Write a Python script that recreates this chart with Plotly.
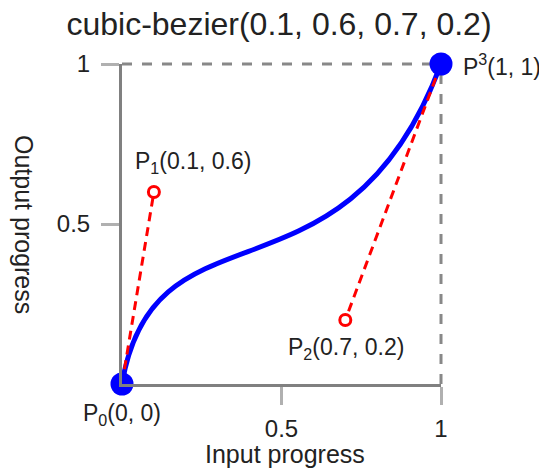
import plotly.graph_objects as go

# ---- data ----
TITLE = "cubic-bezier(0.1, 0.6, 0.7, 0.2)"
point_names = ["P<sub>0</sub>", "P<sub>1</sub>", "P<sub>2</sub>", "P<sup>3</sup>"]
px = [0.0, 0.1, 0.7, 1.0]
py = [0.0, 0.6, 0.2, 1.0]
x_tickvals = [0.5, 1]
x_ticktext = ["0.5", "1"]
y_tickvals = [0.5, 1]
y_ticktext = ["0.5", "1"]
x_title = "Input progress"
y_title = "Output progress"
X_RANGE = [0, 1]
Y_RANGE = [0, 1]

FONT = "Liberation Sans, Arial, sans-serif"
TXT = "#222222"

W, H = 547, 468


def fmt(v):
    return ("%g" % v)


fig = go.Figure()

# red dashed handles P0-P1 and P3-P2
fig.add_trace(go.Scatter(x=[px[0], px[1]], y=[py[0], py[1]], mode="lines",
                         line=dict(color="#ff0000", width=3, dash="9px,6px"),
                         hoverinfo="skip", showlegend=False))
fig.add_trace(go.Scatter(x=[px[3], px[2]], y=[py[3], py[2]], mode="lines",
                         line=dict(color="#ff0000", width=3, dash="9px,6px"),
                         hoverinfo="skip", showlegend=False))

# control points (hollow red)
fig.add_trace(go.Scatter(x=[px[1], px[2]], y=[py[1], py[2]], mode="markers",
                         marker=dict(size=11, color="white",
                                     line=dict(color="#ff0000", width=3)),
                         cliponaxis=False, hoverinfo="skip", showlegend=False))
# end points (blue)
fig.add_trace(go.Scatter(x=[px[0], px[3]], y=[py[0], py[3]], mode="markers",
                         marker=dict(size=23, color="#0000ff"),
                         cliponaxis=False, hoverinfo="skip", showlegend=False))

# bezier curve through the library's path shape
path = "M %g,%g C %g,%g %g,%g %g,%g" % (px[0], py[0], px[1], py[1], px[2], py[2], px[3], py[3])
fig.add_shape(type="path", path=path, xref="x", yref="y",
              line=dict(color="#0000ff", width=5), layer="below")

# dashed boundary at the top and right
fig.add_shape(type="line", xref="x domain", yref="y domain", x0=0, x1=1, y0=1, y1=1,
              line=dict(color="#888888", width=3, dash="10px,10px"), layer="below")
fig.add_shape(type="line", xref="x domain", yref="y domain", x0=1, x1=1, y0=0, y1=1,
              line=dict(color="#888888", width=3, dash="10px,10px"), layer="below")

# point labels
label_pos = [
    dict(xanchor="center", yanchor="middle", xshift=0, yshift=-30),
    dict(xanchor="left", yanchor="middle", xshift=-21, yshift=30),
    dict(xanchor="center", yanchor="middle", xshift=1, yshift=-28),
    dict(xanchor="left", yanchor="middle", xshift=20, yshift=-1),
]
for i in range(4):
    fig.add_annotation(x=px[i], y=py[i], xref="x", yref="y",
                       text="%s(%s, %s)" % (point_names[i], fmt(px[i]), fmt(py[i])),
                       showarrow=False, font=dict(family=FONT, size=23, color=TXT),
                       **label_pos[i])

# axis titles
fig.add_annotation(x=0.5, y=0, xref="x domain", yref="y domain",
                   xanchor="center", yanchor="middle", xshift=3, yshift=-70,
                   text=x_title, showarrow=False,
                   font=dict(family=FONT, size=25, color=TXT))
fig.add_annotation(x=0, y=0.5, xref="x domain", yref="y domain",
                   xanchor="center", yanchor="middle", xshift=-98, yshift=0,
                   text=y_title, textangle=90, showarrow=False,
                   font=dict(family=FONT, size=25, color=TXT))

fig.update_layout(
    width=W, height=H,
    margin=dict(l=114, r=114, t=56, b=92),
    paper_bgcolor="white", plot_bgcolor="white",
    title=dict(text=TITLE, x=271 / W, xanchor="center", y=1 - 15.5 / H, yanchor="middle",
               font=dict(family=FONT, size=32, color=TXT)),
    showlegend=False,
    xaxis=dict(range=X_RANGE, tickvals=x_tickvals, ticktext=x_ticktext,
               showgrid=False, zeroline=False, showline=True, linecolor="#808080",
               linewidth=3, ticks="outside", ticklen=18, tickwidth=3, tickcolor="#b0b0b0",
               ticklabelstandoff=3,
               tickfont=dict(family=FONT, size=24, color=TXT), fixedrange=True),
    yaxis=dict(range=Y_RANGE, tickvals=y_tickvals, ticktext=y_ticktext,
               showgrid=False, zeroline=False, showline=True, linecolor="#808080",
               linewidth=3, ticks="outside", ticklen=18, tickwidth=3, tickcolor="#b0b0b0",
               ticklabelstandoff=6,
               tickfont=dict(family=FONT, size=24, color=TXT), fixedrange=True),
)

fig.write_html("out.html")
